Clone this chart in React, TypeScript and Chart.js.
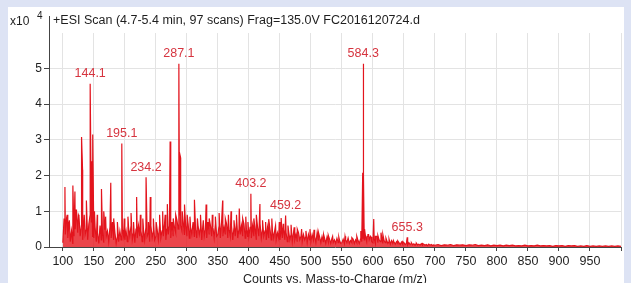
import React, { useEffect, useRef } from "react";
import { Chart, registerables } from "chart.js";

Chart.register(...registerables);

// Profile noise, m/z 100..598 every 2 (units of 10^4 counts)
const noiseStart = 100;
const noiseStep = 2;
const noiseVals = [
  0.12, 0.78, 0.35, 0.8, 0.25, 0.7, 0.15, 0.45, 0.1, 0.3, 0.5, 0.95, 0.4, 0.85, 0.3, 0.6, 0.2, 0.75, 0.35, 0.5, 0.2, 0.65, 0.9, 0.7, 0.3,
  0.25, 0.55, 0.15, 0.4, 0.1, 0.6, 0.2, 0.35, 0.12, 0.5, 0.3, 0.45, 0.15, 0.55, 0.25, 0.7, 0.2, 0.4, 0.1, 0.3, 0.15, 0.45, 0.2, 0.5, 0.3,
  0.2, 0.45, 0.15, 0.55, 0.3, 0.6, 0.2, 0.4, 0.12, 0.5, 0.25, 0.6, 0.3, 0.45, 0.15, 0.5, 0.2, 0.55, 0.3, 0.4, 0.15, 0.6, 0.25, 0.45, 0.2,
  0.3, 0.5, 0.2, 0.6, 0.25, 0.45, 0.3, 0.65, 0.2, 0.5, 0.35, 0.6, 0.25, 0.7, 0.3, 0.55, 0.4, 0.75, 0.5, 0.9, 0.6, 0.45, 0.7, 0.35, 0.6,
  0.3, 0.65, 0.25, 0.55, 0.35, 0.7, 0.3, 0.5, 0.25, 0.6, 0.35, 0.55, 0.2, 0.65, 0.3, 0.5, 0.25, 0.7, 0.35, 0.6, 0.3, 0.55, 0.25, 0.65, 0.3,
  0.35, 0.6, 0.25, 0.7, 0.3, 0.55, 0.35, 0.65, 0.25, 0.5, 0.3, 0.6, 0.2, 0.55, 0.3, 0.7, 0.25, 0.5, 0.35, 0.6, 0.3, 0.65, 0.25, 0.5, 0.3,
  0.3, 0.55, 0.25, 0.6, 0.3, 0.5, 0.2, 0.55, 0.3, 0.65, 0.25, 0.5, 0.3, 0.45, 0.2, 0.55, 0.25, 0.5, 0.2, 0.45, 0.25, 0.5, 0.2, 0.4, 0.25,
  0.2, 0.45, 0.25, 0.5, 0.2, 0.4, 0.15, 0.45, 0.2, 0.35, 0.15, 0.4, 0.2, 0.35, 0.15, 0.4, 0.2, 0.3, 0.15, 0.35, 0.2, 0.3, 0.12, 0.35, 0.2,
  0.15, 0.35, 0.2, 0.3, 0.12, 0.4, 0.18, 0.28, 0.12, 0.3, 0.15, 0.25, 0.1, 0.28, 0.15, 0.22, 0.1, 0.25, 0.12, 0.2, 0.1, 0.24, 0.12, 0.2, 0.1,
  0.12, 0.22, 0.1, 0.2, 0.12, 0.25, 0.1, 0.18, 0.12, 0.22, 0.1, 0.2, 0.12, 0.18, 0.1, 0.22, 0.15, 0.25, 0.2, 0.3, 0.15, 0.35, 0.2, 0.3, 0.15,
];

// m/z 600..698 every 2
const lowStart = 600;
const lowStep = 2;
const lowVals = [
  0.12, 0.22, 0.1, 0.3, 0.12, 0.2, 0.15, 0.28, 0.1, 0.18, 0.12, 0.2, 0.1, 0.15, 0.08, 0.18, 0.1, 0.14, 0.08, 0.15, 0.1, 0.12, 0.07, 0.14, 0.08,
  0.12, 0.07, 0.1, 0.06, 0.12, 0.07, 0.1, 0.06, 0.09, 0.05, 0.1, 0.06, 0.08, 0.05, 0.09, 0.05, 0.08, 0.05, 0.07, 0.04, 0.08, 0.05, 0.07, 0.04, 0.06,
];

// m/z 700..1000 every 5
const tailStart = 700;
const tailStep = 5;
const tailVals = [
  0.05, 0.07, 0.04, 0.06, 0.05, 0.07, 0.04, 0.06, 0.05, 0.06,
  0.04, 0.06, 0.05, 0.07, 0.04, 0.05, 0.04, 0.06, 0.03, 0.05,
  0.04, 0.05, 0.03, 0.05, 0.04, 0.05, 0.03, 0.04, 0.03, 0.05,
  0.03, 0.04, 0.03, 0.05, 0.03, 0.04, 0.03, 0.04, 0.02, 0.04,
  0.03, 0.04, 0.02, 0.04, 0.03, 0.04, 0.02, 0.03, 0.02, 0.04,
  0.02, 0.03, 0.02, 0.03, 0.02, 0.03, 0.02, 0.03, 0.02, 0.03, 0.02,
];

// Peaks (m/z, intensity x10^4)
const peakMz = [
  103.4, 107.0, 110.5, 116.2, 119.5, 121.5, 125.0, 130.2, 131.8, 134.5, 138.0, 144.1, 146.3, 148.2, 151.0, 155.5,
  162.3, 166.0, 169.0, 177.3, 182.0, 188.0, 195.1, 199.0, 205.0, 210.0, 214.0, 219.0, 225.0, 229.0, 234.2, 238.0,
  241.0, 246.0, 250.5, 256.0, 261.0, 265.0, 268.5, 273.0, 278.0, 282.0, 287.1, 288.6, 289.8, 292.5, 296.2, 300.5,
  305.0, 312.2, 317.0, 322.0, 326.5, 331.0, 336.0, 341.0, 346.0, 352.0, 357.7, 362.0, 367.0, 371.2, 376.0, 380.0,
  384.5, 390.0, 395.0, 398.5, 403.2, 408.0, 412.0, 417.8, 422.0, 427.0, 432.0, 437.0, 443.0, 449.0, 452.0, 455.5,
  459.2, 463.0, 468.0, 473.0, 478.0, 485.0, 492.0, 498.5, 505.0, 512.0, 520.5, 528.0, 535.0, 545.0, 555.0, 566.0,
  574.0, 580.5, 583.5, 584.3, 585.2, 586.5, 590.5, 593.0, 597.0, 601.3, 604.0, 608.0, 613.0, 616.0, 621.0, 626.0,
  633.0, 640.0, 648.0, 655.3, 662.0, 670.0, 680.0, 690.0,
];
const peakVal = [
  1.68, 0.9, 0.75, 1.72, 1.55, 1.05, 0.9, 3.08, 2.16, 0.9, 1.3, 4.57, 2.4, 3.15, 1.0, 0.9,
  1.62, 1.0, 0.85, 1.8, 0.8, 0.7, 2.9, 0.8, 0.85, 0.95, 0.7, 1.4, 0.9, 0.8, 1.95, 0.7,
  1.4, 0.8, 0.7, 0.9, 1.0, 0.9, 1.2, 2.95, 0.8, 0.9, 5.13, 2.6, 2.5, 1.0, 1.19, 0.9,
  0.85, 1.32, 0.8, 0.9, 0.75, 1.19, 0.8, 0.9, 0.85, 0.95, 1.3, 0.8, 0.9, 1.0, 0.75, 0.9,
  1.08, 0.8, 0.85, 0.7, 1.49, 0.8, 0.9, 1.2, 0.75, 0.7, 0.78, 0.8, 0.6, 0.7, 0.81, 0.65,
  0.88, 0.6, 0.62, 0.55, 0.5, 0.5, 0.45, 0.5, 0.48, 0.42, 0.35, 0.33, 0.3, 0.28, 0.3, 0.26,
  0.3, 0.45, 2.08, 5.13, 2.0, 0.5, 0.3, 0.35, 0.28, 0.78, 0.3, 0.32, 0.4, 0.35, 0.25, 0.22,
  0.18, 0.17, 0.15, 0.27, 0.12, 0.11, 0.1, 0.08,
];

const labelMz = [144.1, 195.1, 234.2, 287.1, 403.2, 459.2, 584.3, 655.3];

const xTicks = [100, 150, 200, 250, 300, 350, 400, 450, 500, 550, 600, 650, 700, 750, 800, 850, 900, 950, 1000];
const yTicks = [0, 1, 2, 3, 4, 5];

const titleText = "+ESI Scan (4.7-5.4 min, 97 scans) Frag=135.0V FC2016120724.d";
const xTitle = "Counts vs. Mass-to-Charge (m/z)";

const FONT = '"Liberation Sans", Arial, sans-serif';

export default function App() {
  const ref = useRef<HTMLCanvasElement | null>(null);

  useEffect(() => {
    const pts: { x: number; y: number }[] = [];
    noiseVals.forEach((v, i) => pts.push({ x: noiseStart + i * noiseStep, y: v }));
    lowVals.forEach((v, i) => pts.push({ x: lowStart + i * lowStep, y: v }));
    tailVals.forEach((v, i) => pts.push({ x: tailStart + i * tailStep, y: v }));
    peakMz.forEach((m, i) => pts.push({ x: m, y: peakVal[i] }));
    pts.sort((a, b) => a.x - b.x);

    const overlay = {
      id: "overlay",
      beforeDatasetsDraw(chart: any) {
        const { ctx, chartArea } = chart;
        ctx.save();
        ctx.fillStyle = "#ffffff";
        ctx.fillRect(chartArea.left + 1, 0, chartArea.right - chartArea.left + 2, 26);
        ctx.restore();
      },
      afterDraw(chart: any) {
        const { ctx, chartArea } = chart;
        const xs = chart.scales.x;
        const ys = chart.scales.y;
        ctx.save();
        ctx.fillStyle = "#1e1e1e";
        ctx.textBaseline = "middle";
        ctx.textAlign = "left";
        ctx.font = `12.5px ${FONT}`;
        ctx.fillText(titleText, 45, 14);
        ctx.font = `12px ${FONT}`;
        ctx.fillText("x10", 2, 15);
        ctx.font = `10px ${FONT}`;
        ctx.fillText("4", 29, 9);
        ctx.font = `12.5px ${FONT}`;
        ctx.textAlign = "center";
        ctx.fillText(xTitle, (chartArea.left + chartArea.right) / 2, 273);
        ctx.fillStyle = "#d6343f";
        ctx.font = `12.5px ${FONT}`;
        labelMz.forEach((m) => {
          const idx = peakMz.indexOf(m);
          const v = idx >= 0 ? peakVal[idx] : 0;
          ctx.fillText(m.toFixed(1), xs.getPixelForValue(m), ys.getPixelForValue(v) - 10);
        });
        ctx.restore();
      },
    };

    const chart = new Chart(ref.current as HTMLCanvasElement, {
      type: "line",
      data: {
        datasets: [
          {
            data: pts,
            borderColor: "#e3141d",
            backgroundColor: "rgba(230, 22, 30, 0.8)",
            borderWidth: 1.2,
            pointRadius: 0,
            tension: 0,
            fill: "origin",
          },
        ],
      },
      options: {
        animation: false,
        responsive: false,
        devicePixelRatio: 1,
        layout: { padding: { top: 1, right: 1, left: 0, bottom: 0 } },
        plugins: { legend: { display: false }, tooltip: { enabled: false }, title: { display: false } },
        scales: {
          x: {
            type: "linear",
            min: 77.7,
            max: 1000,
            afterBuildTicks: (s: any) => {
              s.ticks = xTicks.map((v) => ({ value: v }));
            },
            afterFit: (s: any) => {
              s.height = 36;
            },
            ticks: {
              autoSkip: false,
              maxRotation: 0,
              padding: 3,
              color: "#1e1e1e",
              font: { family: FONT, size: 12.5 },
              callback: (v: any) => (v === 1000 ? "" : String(v)),
            },
            grid: { color: "#e3e3e3", tickColor: "#444", tickLength: 4, lineWidth: 1 },
            border: { display: true, color: "#444", width: 1 },
          },
          y: {
            type: "linear",
            min: 0,
            max: 6.46,
            afterBuildTicks: (s: any) => {
              s.ticks = yTicks.map((v) => ({ value: v }));
            },
            afterFit: (s: any) => {
              s.width = 41;
            },
            ticks: {
              padding: 2,
              color: "#1e1e1e",
              font: { family: FONT, size: 12 },
              callback: (v: any) => String(v),
            },
            grid: {
              color: (c: any) => (c.tick && c.tick.value === 0 ? "rgba(0,0,0,0)" : "#e3e3e3"),
              tickColor: "#444",
              tickLength: 5,
            },
            border: { display: true, color: "#444", width: 1 },
          },
        },
      },
      plugins: [overlay],
    });
    return () => chart.destroy();
  }, []);

  return (
    <div style={{ position: "fixed", left: 0, top: 0, width: "100%", height: "100%", background: "#dde3f4" }}>
      <div style={{ position: "absolute", left: 8, top: 7, width: 616, height: 276, background: "#ffffff" }}>
        <canvas ref={ref} width={616} height={276} style={{ display: "block" }} />
      </div>
    </div>
  );
}
